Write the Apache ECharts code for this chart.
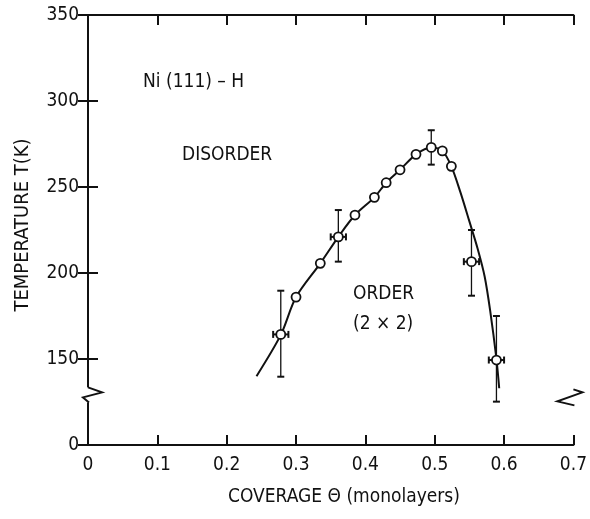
<!DOCTYPE html>
<html><head><meta charset="utf-8">
<script src="https://cdn.jsdelivr.net/npm/echarts@6/dist/echarts.min.js"></script>
<style>html,body{margin:0;padding:0;background:#fff}#c{width:590px;height:519px}</style>
</head><body><div id="c"></div>
<script>
// ---- data ----
var xTicks = [0, 0.1, 0.2, 0.3, 0.4, 0.5, 0.6, 0.7];
var yTickLabels = {100: '0', 150: '150', 200: '200', 250: '250', 300: '300', 350: '350'};
// plain measured points (coverage, T)
var plainX = [0.300, 0.335, 0.385, 0.413, 0.430, 0.450, 0.473, 0.511, 0.524];
var plainT = [186, 205.6, 233.7, 244, 252.5, 260, 269, 271, 262];
// points with error bars: coverage, T, T low, T high, coverage error
var errX = [0.278, 0.361, 0.495, 0.553, 0.589];
var errT = [164.3, 221, 273, 206.6, 149.4];
var errLo = [139.7, 206.6, 263, 186.8, 125.2];
var errHi = [189.7, 236.6, 283, 225, 175];
var errDx = [0.011, 0.011, 0, 0.011, 0.011];
// phase boundary curve
var curveX = [0.243, 0.278, 0.300, 0.335, 0.361, 0.385, 0.413, 0.430, 0.450, 0.473, 0.495, 0.511, 0.524, 0.537, 0.550, 0.562, 0.572, 0.580, 0.589, 0.593];
var curveT = [140, 164, 186, 205.6, 221, 233.7, 244, 252.5, 260, 269, 273, 271, 262, 247, 230, 214, 198, 178, 150, 133];
var breakT = 130;

var FONT = "'DejaVu Sans Condensed', 'Liberation Sans Narrow', 'DejaVu Sans', sans-serif";
var INK = '#111';

function zip(a, b) { return a.map(function (v, i) { return [v, b[i]]; }); }

var chart = echarts.init(document.getElementById('c'), null, {renderer: 'canvas'});

var axisCommon = {
  axisLine: {show: true, lineStyle: {color: INK, width: 2}},
  axisTick: {show: true, inside: true, length: 10, lineStyle: {color: INK, width: 2}},
  splitLine: {show: false}
};

var option = {
  backgroundColor: '#fff',
  animation: false,
  grid: {left: 88, right: 12, top: 15, bottom: 74, containLabel: false},
  xAxis: [
    Object.assign({
      type: 'value', min: 0, max: 0.7, interval: 0.1, position: 'bottom',
      axisLabel: {color: INK, fontFamily: FONT, fontSize: 19, margin: 11,
        formatter: function (v) { return v === 0 ? '0' : v.toFixed(1); }}
    }, axisCommon),
    Object.assign({
      type: 'value', min: 0, max: 0.7, interval: 0.1, position: 'top',
      axisLabel: {show: false}
    }, axisCommon)
  ],
  yAxis: [
    Object.assign({
      type: 'value', min: 100, max: 350, interval: 50, position: 'left',
      axisLabel: {color: INK, fontFamily: FONT, fontSize: 19, margin: 9,
        formatter: function (v) { return yTickLabels[v] || ''; }}
    }, axisCommon),
    Object.assign({
      type: 'value', min: 100, max: 350, interval: 50, position: 'right',
      axisLabel: {show: false}
    }, axisCommon)
  ],
  graphic: [
    {type: 'text', x: 23, y: 225, rotation: Math.PI / 2,
      style: {text: 'TEMPERATURE T(K)', fill: INK, font: '20px ' + FONT, align: 'center', verticalAlign: 'middle'}},
    {type: 'text', x: 344, y: 497,
      style: {text: 'COVERAGE \u0398 (monolayers)', fill: INK, font: '19px ' + FONT, align: 'center', verticalAlign: 'middle'}},
    {type: 'text', x: 143, y: 82,
      style: {text: 'Ni (111) \u2013 H', fill: INK, font: '19px ' + FONT, align: 'left', verticalAlign: 'middle'}},
    {type: 'text', x: 182, y: 155,
      style: {text: 'DISORDER', fill: INK, font: '19px ' + FONT, align: 'left', verticalAlign: 'middle'}},
    {type: 'text', x: 353, y: 294,
      style: {text: 'ORDER', fill: INK, font: '19px ' + FONT, align: 'left', verticalAlign: 'middle'}},
    {type: 'text', x: 353, y: 324,
      style: {text: '(2 \u00d7 2)', fill: INK, font: '19px ' + FONT, align: 'left', verticalAlign: 'middle'}}
  ],
  series: [
    {
      type: 'line', data: zip(curveX, curveT), smooth: 0.3, symbol: 'none',
      lineStyle: {color: INK, width: 2}, z: 3, clip: false
    },
    {
      type: 'custom', z: 4, clip: false,
      data: errX.map(function (x, i) { return [x, errT[i], errLo[i], errHi[i], errDx[i]]; }),
      renderItem: function (params, api) {
        var x = api.value(0), t = api.value(1), lo = api.value(2), hi = api.value(3), dx = api.value(4);
        var pLo = api.coord([x, lo]), pHi = api.coord([x, hi]);
        var st = {stroke: INK, lineWidth: 1.3};
        var ch = [
          {type: 'line', shape: {x1: pLo[0], y1: pLo[1], x2: pHi[0], y2: pHi[1]}, style: st},
          {type: 'line', shape: {x1: pLo[0] - 3.5, y1: pLo[1], x2: pLo[0] + 3.5, y2: pLo[1]}, style: {stroke: INK, lineWidth: 2}},
          {type: 'line', shape: {x1: pHi[0] - 3.5, y1: pHi[1], x2: pHi[0] + 3.5, y2: pHi[1]}, style: {stroke: INK, lineWidth: 2}}
        ];
        if (dx > 0) {
          var pL = api.coord([x - dx, t]), pR = api.coord([x + dx, t]);
          ch.push({type: 'line', shape: {x1: pL[0], y1: pL[1], x2: pR[0], y2: pR[1]}, style: {stroke: INK, lineWidth: 2}});
          ch.push({type: 'line', shape: {x1: pL[0], y1: pL[1] - 3.5, x2: pL[0], y2: pL[1] + 3.5}, style: {stroke: INK, lineWidth: 2}});
          ch.push({type: 'line', shape: {x1: pR[0], y1: pR[1] - 3.5, x2: pR[0], y2: pR[1] + 3.5}, style: {stroke: INK, lineWidth: 2}});
        }
        return {type: 'group', children: ch};
      }
    },
    {
      type: 'scatter', data: zip(plainX, plainT).concat(zip(errX, errT)), symbol: 'circle', symbolSize: 9,
      itemStyle: {color: '#fff', borderColor: INK, borderWidth: 1.8, opacity: 1}, z: 5
    },
    {
      // axis break marks on both vertical axes
      type: 'custom', z: 6, clip: false, silent: true,
      data: [[0, breakT, 0], [0.7, breakT, 1]],
      renderItem: function (params, api) {
        var c = api.coord([api.value(0), api.value(1)]);
        var cx = c[0], cy = c[1];
        var pts, rect;
        if (api.value(2) === 0) {
          pts = [[cx, cy - 6], [cx + 14, cy - 1], [cx - 5, cy + 4], [cx + 1, cy + 9]];
          rect = {x: cx - 3, y: cy - 6, width: 6, height: 15};
        } else {
          pts = [[cx, cy - 4], [cx + 9, cy - 1], [cx - 16, cy + 8], [cx + 1, cy + 12]];
          rect = {x: cx - 3, y: cy - 4, width: 6, height: 16};
        }
        return {type: 'group', children: [
          {type: 'rect', shape: rect, style: {fill: '#fff'}},
          {type: 'polyline', shape: {points: pts}, style: {stroke: INK, lineWidth: 2, fill: null}}
        ]};
      }
    }
  ]
};
chart.setOption(option);
</script>
</body></html>
